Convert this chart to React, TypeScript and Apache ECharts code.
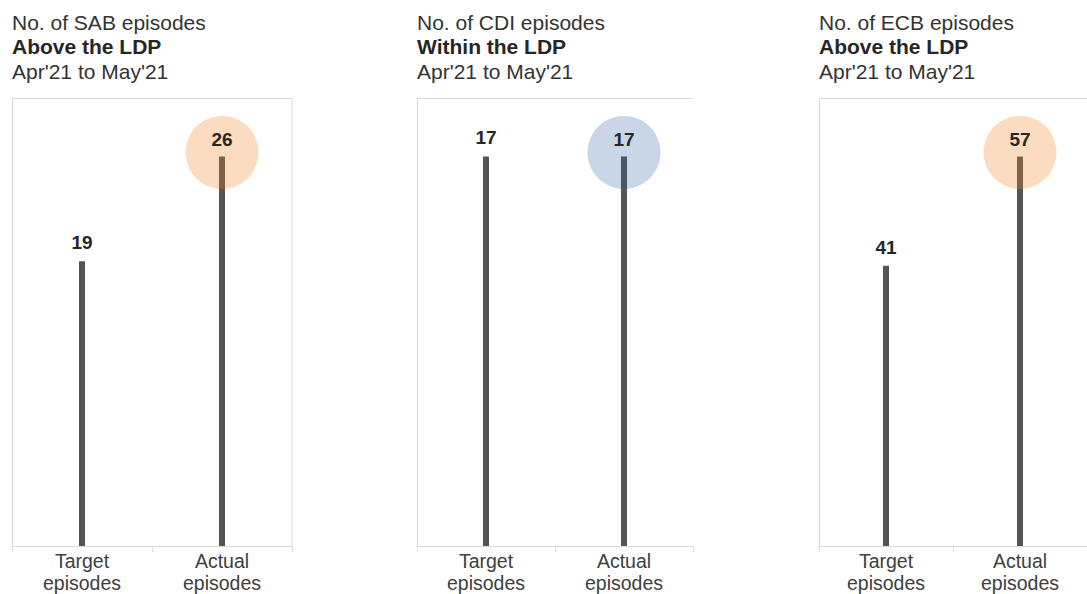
import React, { useEffect, useRef } from "react";
import * as echarts from "echarts";

const categories = ["Target\nepisodes", "Actual\nepisodes"];
const panelTitles = ["No. of SAB episodes", "No. of CDI episodes", "No. of ECB episodes"];
const panelStatus = ["Above the LDP", "Within the LDP", "Above the LDP"];
const period = "Apr'21 to May'21";
const targetValues = [19, 17, 41];
const actualValues = [26, 17, 57];
const statusColors = ["rgba(240,130,30,0.28)", "rgba(40,90,160,0.25)", "rgba(240,130,30,0.28)"];

const gridLefts = [12, 417, 819];
const gridWidths = [280, 276, 278];
const gridTop = 98;
const gridHeight = 448;
const showRightBorder = [true, false, false];

export default function App() {
  const ref = useRef<HTMLDivElement>(null);
  useEffect(() => {
    if (!ref.current) return;
    const chart = echarts.init(ref.current, null, { renderer: "svg" });
    const font = "Arial, 'Liberation Sans', Helvetica, sans-serif";
    const grids: any[] = [];
    const xAxes: any[] = [];
    const yAxes: any[] = [];
    const series: any[] = [];
    const titles: any[] = [];
    const graphics: any[] = [];
    for (let i = 0; i < 3; i++) {
      grids.push({ left: gridLefts[i], top: gridTop, width: gridWidths[i], height: gridHeight, show: false });
      xAxes.push({
        type: "category",
        gridIndex: i,
        data: categories,
        axisLine: { show: true, lineStyle: { color: "#d9d9d9", width: 1 } },
        axisTick: { show: true, length: 6, lineStyle: { color: "#e0e0e0" } },
        axisLabel: { fontSize: 19.5, color: "#404040", lineHeight: 22, margin: 4, fontFamily: font },
        splitLine: { show: false },
      });
      const maxV = Math.max(targetValues[i], actualValues[i]) * 1.15;
      yAxes.push({
        type: "value",
        gridIndex: i,
        min: 0,
        max: maxV,
        axisLine: { show: true, lineStyle: { color: "#d9d9d9", width: 1 } },
        axisLabel: { show: false },
        axisTick: { show: false },
        splitLine: { show: false },
      });
      series.push({
        type: "bar",
        xAxisIndex: i,
        yAxisIndex: i,
        barWidth: 6,
        z: 2,
        itemStyle: { color: "#555555" },
        data: [
          {
            value: targetValues[i],
            label: {
              show: true,
              position: "top",
              distance: 9,
              fontSize: 19,
              fontWeight: "bold",
              color: "#262626",
              fontFamily: font,
            },
          },
          { value: actualValues[i], label: { show: false } },
        ],
      });
      series.push({
        type: "scatter",
        xAxisIndex: i,
        yAxisIndex: i,
        z: 3,
        symbol: "circle",
        symbolSize: 73,
        symbolOffset: [0, -4],
        itemStyle: { color: statusColors[i], opacity: 1 },
        label: {
          show: true,
          position: "inside",
          offset: [0, -13],
          fontSize: 19,
          fontWeight: "bold",
          color: "#262626",
          fontFamily: font,
        },
        emphasis: { disabled: true },
        data: [[categories[1], actualValues[i]]],
      });
      titles.push({
        left: gridLefts[i],
        top: 10,
        padding: 0,
        text: `{a|${panelTitles[i]}}\n{b|${panelStatus[i]}}\n{a|${period}}`,
        textStyle: {
          fontWeight: "normal",
          fontSize: 21,
          fontFamily: font,
          rich: {
            a: { fontSize: 21, color: "#333333", fontWeight: "normal", lineHeight: 24.5, fontFamily: font },
            b: { fontSize: 21, color: "#262626", fontWeight: "bold", lineHeight: 24.5, fontFamily: font },
          },
        },
      });
      const x0 = gridLefts[i];
      const x1 = gridLefts[i] + gridWidths[i];
      const pts: number[][] = [[x0, gridTop + 0.5], [x1, gridTop + 0.5]];
      if (showRightBorder[i]) pts.push([x1, gridTop + gridHeight]);
      graphics.push({
        type: "polyline",
        shape: { points: pts },
        style: { stroke: "#d9d9d9", lineWidth: 1, fill: null },
        silent: true,
      });
    }
    chart.setOption({
      animation: false,
      backgroundColor: "#ffffff",
      title: titles,
      grid: grids,
      xAxis: xAxes,
      yAxis: yAxes,
      series,
      graphic: graphics,
    });
    return () => chart.dispose();
  }, []);
  return (
    <div
      ref={ref}
      style={{ position: "absolute", left: 0, top: 0, width: 1087, height: 594 }}
    />
  );
}
